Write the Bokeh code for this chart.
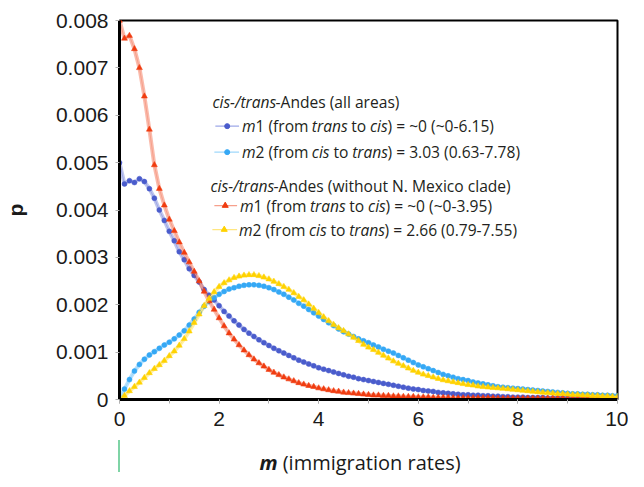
import subprocess
from bokeh.plotting import figure
from bokeh.layouts import column
from bokeh.models import (Label, SingleIntervalTicker, FixedTicker, CustomJSTickFormatter,
                          Range1d, Div)
from bokeh.embed import file_html
from bokeh.resources import INLINE

# ---------------- data ----------------
m_grid = [i / 10 for i in range(101)]

# m1 (from trans to cis), all areas  -- dark blue circles
p_m1_all = [
    0.00500, 0.00455, 0.00462, 0.00458, 0.00466, 0.00460, 0.00445, 0.00425, 0.00400, 0.00378,
    0.00355, 0.00335, 0.00312, 0.00295, 0.00276, 0.00262, 0.00248, 0.00232, 0.00220, 0.00210,
    0.00198, 0.00186, 0.00176, 0.00166, 0.00157, 0.00148, 0.00140, 0.00133, 0.00126, 0.00120,
    0.00114, 0.00108, 0.00103, 0.00098, 0.00093, 0.00088, 0.00083, 0.00079, 0.00075, 0.00071,
    0.00067, 0.00064, 0.00061, 0.00058, 0.00055, 0.00052, 0.00049, 0.00047, 0.00044, 0.00042,
    0.00040, 0.00038, 0.00036, 0.00034, 0.00032, 0.00030, 0.00028, 0.00026, 0.00024, 0.00022,
    0.00021, 0.00019, 0.00018, 0.00017, 0.00015, 0.00014, 0.00013, 0.00012, 0.00011, 0.00010,
    0.00010, 0.00009, 0.00009, 0.00008, 0.00008, 0.00007, 0.00007, 0.00006, 0.00006, 0.00005,
    0.00005, 0.00005, 0.00004, 0.00004, 0.00004, 0.00004, 0.00003, 0.00003, 0.00003, 0.00003,
    0.00003, 0.00003, 0.00003, 0.00002, 0.00002, 0.00002, 0.00002, 0.00002, 0.00002, 0.00002,
    0.00002,
]

# m2 (from cis to trans), all areas  -- light blue circles
p_m2_all = [
    0.00000, 0.00022, 0.00042, 0.00060, 0.00074, 0.00085, 0.00094, 0.00101, 0.00108, 0.00115,
    0.00121, 0.00128, 0.00136, 0.00145, 0.00157, 0.00170, 0.00184, 0.00197, 0.00207, 0.00215,
    0.00222, 0.00228, 0.00233, 0.00236, 0.00239, 0.00241, 0.00242, 0.00242, 0.00241, 0.00239,
    0.00236, 0.00232, 0.00227, 0.00222, 0.00216, 0.00210, 0.00203, 0.00197, 0.00190, 0.00183,
    0.00176, 0.00169, 0.00162, 0.00156, 0.00149, 0.00143, 0.00138, 0.00133, 0.00128, 0.00124,
    0.00120, 0.00115, 0.00111, 0.00106, 0.00102, 0.00098, 0.00093, 0.00088, 0.00083, 0.00078,
    0.00073, 0.00069, 0.00065, 0.00061, 0.00057, 0.00053, 0.00050, 0.00047, 0.00044, 0.00042,
    0.00040, 0.00037, 0.00035, 0.00033, 0.00031, 0.00029, 0.00027, 0.00026, 0.00025, 0.00024,
    0.00023, 0.00022, 0.00021, 0.00020, 0.00019, 0.00018, 0.00017, 0.00016, 0.00015, 0.00014,
    0.00013, 0.00012, 0.00012, 0.00011, 0.00011, 0.00010, 0.00010, 0.00009, 0.00009, 0.00008,
    0.00008,
]

# m1 (from trans to cis), without N. Mexico clade -- red triangles
p_m1_noNM = [
    0.00800, 0.00762, 0.00768, 0.00740, 0.00700, 0.00640, 0.00570, 0.00495, 0.00445, 0.00410,
    0.00380, 0.00356, 0.00332, 0.00310, 0.00290, 0.00270, 0.00250, 0.00228, 0.00208, 0.00190,
    0.00172, 0.00155, 0.00140, 0.00127, 0.00115, 0.00104, 0.00094, 0.00085, 0.00077, 0.00070,
    0.00063, 0.00057, 0.00052, 0.00047, 0.00043, 0.00039, 0.00035, 0.00032, 0.00029, 0.00027,
    0.00024, 0.00022, 0.00020, 0.00018, 0.00017, 0.00015, 0.00014, 0.00013, 0.00012, 0.00011,
    0.00010, 0.00009, 0.00009, 0.00008, 0.00008, 0.00007, 0.00007, 0.00006, 0.00006, 0.00006,
    0.00005, 0.00005, 0.00005, 0.00004, 0.00004, 0.00004, 0.00004, 0.00003, 0.00003, 0.00003,
    0.00003, 0.00003, 0.00003, 0.00003, 0.00003, 0.00003, 0.00002, 0.00002, 0.00002, 0.00002,
    0.00002, 0.00002, 0.00002, 0.00002, 0.00002, 0.00002, 0.00002, 0.00002, 0.00002, 0.00002,
    0.00001, 0.00001, 0.00001, 0.00001, 0.00001, 0.00001, 0.00001, 0.00001, 0.00001, 0.00001,
    0.00001,
]

# m2 (from cis to trans), without N. Mexico clade -- yellow triangles
p_m2_noNM = [
    0.00000, 0.00008, 0.00018, 0.00027, 0.00036, 0.00046, 0.00056, 0.00065, 0.00073, 0.00082,
    0.00092, 0.00102, 0.00114, 0.00128, 0.00144, 0.00162, 0.00180, 0.00198, 0.00213, 0.00227,
    0.00238, 0.00246, 0.00252, 0.00257, 0.00260, 0.00262, 0.00263, 0.00263, 0.00261, 0.00258,
    0.00254, 0.00249, 0.00244, 0.00238, 0.00232, 0.00225, 0.00217, 0.00210, 0.00201, 0.00192,
    0.00183, 0.00174, 0.00166, 0.00158, 0.00151, 0.00145, 0.00138, 0.00131, 0.00124, 0.00116,
    0.00110, 0.00105, 0.00099, 0.00093, 0.00087, 0.00081, 0.00076, 0.00071, 0.00066, 0.00061,
    0.00057, 0.00053, 0.00050, 0.00047, 0.00044, 0.00041, 0.00039, 0.00037, 0.00035, 0.00033,
    0.00031, 0.00030, 0.00028, 0.00027, 0.00026, 0.00025, 0.00024, 0.00023, 0.00022, 0.00021,
    0.00020, 0.00019, 0.00018, 0.00017, 0.00016, 0.00015, 0.00014, 0.00013, 0.00012, 0.00012,
    0.00011, 0.00010, 0.00010, 0.00009, 0.00009, 0.00008, 0.00008, 0.00007, 0.00007, 0.00006,
    0.00006,
]

y_ticks = [0, 0.001, 0.002, 0.003, 0.004, 0.005, 0.006, 0.007, 0.008]

legend_title_all = [("cis-/trans", "italic"), ("-Andes (all areas)", "normal")]
legend_m1_all = [("m", "italic"), ("1 (from ", "normal"), ("trans", "italic"), (" to ", "normal"),
                 ("cis", "italic"), (") = ~0 (~0-6.15)", "normal")]
legend_m2_all = [("m", "italic"), ("2 (from ", "normal"), ("cis", "italic"), (" to ", "normal"),
                 ("trans", "italic"), (") = 3.03 (0.63-7.78)", "normal")]
legend_title_noNM = [("cis-/trans", "italic"), ("-Andes (without N. Mexico clade)", "normal")]
legend_m1_noNM = [("m", "italic"), ("1 (from ", "normal"), ("trans", "italic"), (" to ", "normal"),
                  ("cis", "italic"), (") = ~0 (~0-3.95)", "normal")]
legend_m2_noNM = [("m", "italic"), ("2 (from ", "normal"), ("cis", "italic"), (" to ", "normal"),
                  ("trans", "italic"), (") = 2.66 (0.79-7.55)", "normal")]
x_label_symbol = "m"
x_label_rest = " (immigration rates)"

# ---------------- styles ----------------
C_BLUE, C_BLUE_L = "#4a5ccc", "#9ea8e8"
C_CYAN, C_CYAN_L = "#35a8f5", "#9fd8fb"
C_RED, C_RED_L = "#f03c10", "#f6a08c"
C_YEL, C_YEL_L = "#ffd200", "#ffe680"
TEXT = "#231f20"
LFONT = "Open Sans"

# ---------------- text measuring ----------------
_font_cache = {}


def _font_path(spec):
    try:
        out = subprocess.run(["fc-match", "-f", "%{file}", spec], capture_output=True,
                             text=True, timeout=5).stdout.strip()
        return out or None
    except Exception:
        return None


def text_width(s, style, size, family=LFONT):
    try:
        from PIL import ImageFont
        key = (family, style)
        if key not in _font_cache:
            suffix = {"normal": "", "italic": ":italic", "bold": ":bold",
                      "bold italic": ":bold:italic"}[style]
            _font_cache[key] = ImageFont.truetype(_font_path(family + suffix), 100)
        return _font_cache[key].getlength(s) * size / 100.0
    except Exception:
        return len(s) * 0.55 * size


# ---------------- figure ----------------
X0_PAGE, XS = 121.0, 50.4       # page px of m=0, px per unit
Y0_PAGE, YS = 399.0, 47.4       # page px of p=0, px per 0.001


def dx(px):
    return (px - X0_PAGE) / XS


def dy(py):
    return (Y0_PAGE - py) / YS * 0.001


p = figure(width=628, height=440, output_backend="svg", toolbar_location=None,
           x_range=Range1d(0, 10), y_range=Range1d(0, 0.008),
           min_border_left=113, min_border_right=11, min_border_top=20, min_border_bottom=41)
p.margin = 0
p.background_fill_color = "white"
p.border_fill_color = "white"
p.outline_line_color = "black"
p.outline_line_width = 2
p.xgrid.grid_line_color = None
p.ygrid.grid_line_color = None

for ax in (p.xaxis[0], p.yaxis[0]):
    ax.axis_line_color = "black"
    ax.axis_line_width = 3
    ax.major_tick_line_color = "#b0b0b0"
    ax.minor_tick_line_color = "#b0b0b0"
    ax.major_tick_in = 0
    ax.major_tick_out = 4
    ax.minor_tick_in = 0
    ax.minor_tick_out = 4
    ax.major_label_text_font = "Liberation Sans"
    ax.major_label_text_font_size = "21px"
    ax.major_label_text_color = "#1a1a1a"

p.xaxis[0].ticker = SingleIntervalTicker(interval=2, num_minor_ticks=2)
p.xaxis[0].major_label_standoff = 8
p.yaxis[0].ticker = FixedTicker(ticks=y_ticks)
p.yaxis[0].formatter = CustomJSTickFormatter(code="return tick == 0 ? '0' : tick.toFixed(3);")
p.yaxis[0].major_label_standoff = 7
p.yaxis[0].axis_label = "p"
p.yaxis[0].axis_label_text_font = "Liberation Sans"
p.yaxis[0].axis_label_text_font_style = "bold"
p.yaxis[0].axis_label_text_font_size = "21px"
p.yaxis[0].axis_label_text_color = "#1a1a1a"
p.yaxis[0].axis_label_standoff = 26

# series (drawn blue, light blue, red, yellow)
series = [
    (p_m1_all, C_BLUE, C_BLUE_L, "circle", 5),
    (p_m2_all, C_CYAN, C_CYAN_L, "circle", 5),
    (p_m1_noNM, C_RED, C_RED_L, "triangle", 6),
    (p_m2_noNM, C_YEL, C_YEL_L, "triangle", 6),
]
for vals, col, lcol, mk, sz in series:
    p.line(m_grid, vals, line_color=col, line_width=4, line_alpha=0.35)
    p.line(m_grid, vals, line_color=lcol, line_width=1)
    p.scatter(m_grid, vals, marker=mk, size=sz, fill_color=col, line_color=col, line_width=0.5)


# ---------------- legend (custom, mixed italic) ----------------
def write_segments(segments, x_page, y_page, size, family=LFONT, color=TEXT):
    x = x_page
    for s, st in segments:
        stripped = s.lstrip(" ")
        lead = text_width(s[: len(s) - len(stripped)], st, size, family) if stripped != s else 0
        p.add_layout(Label(x=dx(x + lead), y=dy(y_page), text=stripped,
                           text_font=family, text_font_style=st, text_font_size=f"{size}px",
                           text_color=color, text_baseline="middle", text_align="left"))
        x += text_width(s, st, size, family)


LSIZE = 15.6
write_segments(legend_title_all, 215, 101, LSIZE)
write_segments(legend_m1_all, 245, 125.5, LSIZE)
write_segments(legend_m2_all, 245, 151.5, LSIZE)
write_segments(legend_title_noNM, 213, 185.5, LSIZE)
write_segments(legend_m1_noNM, 243, 205, LSIZE)
write_segments(legend_m2_noNM, 242, 229, LSIZE)

legend_samples = [
    (218, 242, 230, 125.5, C_BLUE, C_BLUE_L, "circle", 5),
    (217, 242, 230, 151.5, C_CYAN, C_CYAN_L, "circle", 5),
    (217, 240, 228, 205, C_RED, C_RED_L, "triangle", 6),
    (215, 240, 227, 229, C_YEL, C_YEL_L, "triangle", 6),
]
for x1, x2, xm, yy, col, lcol, mk, sz in legend_samples:
    p.line([dx(x1), dx(x2)], [dy(yy), dy(yy)], line_color=lcol, line_width=1.2)
    p.scatter([dx(xm)], [dy(yy)], marker=mk, size=sz, fill_color=col, line_color=col)

# x axis title (bold-italic m) in a Div under the figure
label_html = (
    '<div style="position:relative;width:628px;height:32px;box-sizing:border-box;">'
    '<span style="position:absolute;left:118px;top:0;width:2px;height:32px;'
    'background:#7fd4a6;"></span>'
    '<div style="position:absolute;left:0;top:9px;width:628px;padding-left:92px;'
    'box-sizing:border-box;text-align:center;white-space:nowrap;line-height:28px;'
    'font-family:\'Open Sans\';font-size:20px;color:#1a1a1a;">'
    f'<b><i>{x_label_symbol}</i></b>{x_label_rest}</div></div>'
)
xlab = Div(text=label_html, width=628, height=32, margin=0)

layout = column(p, xlab, spacing=0, margin=0)
open("out.html", "w").write(file_html(layout, INLINE))
